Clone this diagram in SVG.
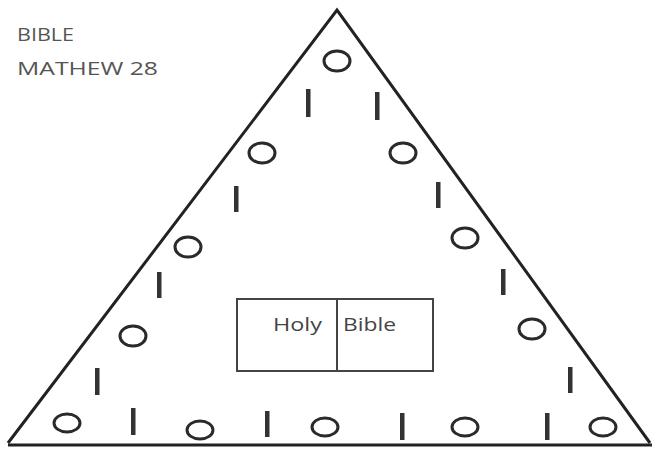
<svg xmlns="http://www.w3.org/2000/svg" width="652" height="450" viewBox="0 0 652 450">
<style>
.edge{fill:none;stroke:#222;stroke-width:3;stroke-linejoin:miter}
.ov{fill:none;stroke:#2a2a2a;stroke-width:3}
.bar{fill:#333}
.lbl{font-family:"Open Sans","Liberation Sans",sans-serif;fill:#555}
.book{fill:none;stroke:#444;stroke-width:2}
.bt{font-family:"Open Sans","Liberation Sans",sans-serif;fill:#444;font-size:19px}
</style>
<rect width="652" height="450" fill="#fff"/>
<g id="title">
<text class="lbl" x="17" y="41" font-size="19" textLength="57" lengthAdjust="spacingAndGlyphs">BIBLE</text>
<text class="lbl" x="17" y="75" font-size="19" textLength="141" lengthAdjust="spacingAndGlyphs">MATHEW 28</text>
</g>
<g id="triangle">
<polyline class="edge" points="8,443 337,10 650,443"/>
<line class="edge" x1="8" y1="445" x2="652" y2="445"/>
</g>
<g id="ovals">
<ellipse class="ov" cx="337" cy="61" rx="13" ry="10"/>
<ellipse class="ov" cx="262" cy="153" rx="13" ry="10"/>
<ellipse class="ov" cx="403" cy="153" rx="13" ry="10"/>
<ellipse class="ov" cx="188" cy="247" rx="13" ry="10"/>
<ellipse class="ov" cx="465" cy="238" rx="13" ry="10"/>
<ellipse class="ov" cx="133" cy="336" rx="13" ry="10"/>
<ellipse class="ov" cx="532" cy="329" rx="13" ry="10"/>
<ellipse class="ov" cx="67" cy="423" rx="13" ry="9"/>
<ellipse class="ov" cx="200" cy="430" rx="13" ry="9"/>
<ellipse class="ov" cx="325" cy="427" rx="13" ry="9"/>
<ellipse class="ov" cx="465" cy="427" rx="13" ry="9"/>
<ellipse class="ov" cx="603" cy="427" rx="13" ry="9"/>
</g>
<g id="bars">
<rect class="bar" x="306" y="89" width="4.5" height="28"/>
<rect class="bar" x="375" y="92" width="4.5" height="28"/>
<rect class="bar" x="234" y="186" width="4.5" height="26"/>
<rect class="bar" x="436" y="182" width="4.5" height="26"/>
<rect class="bar" x="157" y="272" width="4.5" height="26"/>
<rect class="bar" x="501" y="269" width="4.5" height="26"/>
<rect class="bar" x="95" y="368" width="4.5" height="27"/>
<rect class="bar" x="568" y="367" width="4.5" height="26"/>
<rect class="bar" x="131" y="408" width="4.5" height="27"/>
<rect class="bar" x="265" y="411" width="4.5" height="26"/>
<rect class="bar" x="400" y="413" width="4.5" height="27"/>
<rect class="bar" x="545" y="413" width="4.5" height="27"/>
</g>
<g id="holy-bible">
<rect class="book" x="237" y="299" width="196" height="72"/>
<line class="book" x1="337" y1="299" x2="337" y2="371"/>
<text class="bt" x="273" y="331" textLength="49" lengthAdjust="spacingAndGlyphs">Holy</text>
<text class="bt" x="343" y="331" textLength="53" lengthAdjust="spacingAndGlyphs">Bible</text>
</g>
</svg>
